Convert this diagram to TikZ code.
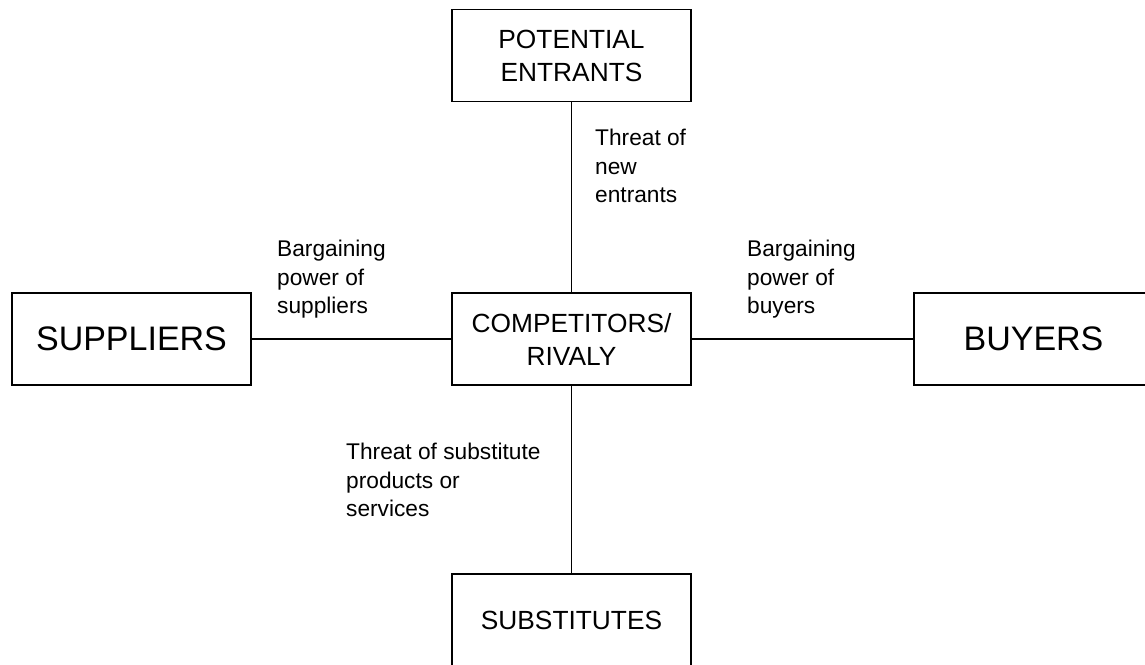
\documentclass[tikz,border=0pt]{standalone}
\usepackage{fontspec}
\setmainfont{Liberation Sans}
\usetikzlibrary{positioning}

\begin{document}
\begin{tikzpicture}[x=1pt,y=-1pt,
   force/.style={rectangle,draw=black,line width=1.3pt,inner sep=0pt,
                 minimum width=239pt,minimum height=92pt,align=center},
   big/.style={font=\fontsize{34}{40}\selectfont},
   mid/.style={font=\fontsize{26.3}{33}\selectfont},
   lbl/.style={anchor=north west,align=left,inner sep=0pt,
               font=\fontsize{22.7}{28.5}\selectfont}]
\useasboundingbox (0,0) rectangle (1145,664);
\path (571.5,55.5)  node (entrants)  [force,mid] {POTENTIAL\\ENTRANTS}
      (571.5,339)   node (rivalry)   [force,mid] {COMPETITORS/\\RIVALY}
      (131.5,339)   node (suppliers) [force,big] {SUPPLIERS}
      (1033.5,339)  node (buyers)    [force,big] {BUYERS}
      (571.5,620)   node (subst)     [force,mid] {SUBSTITUTES};
\draw [line width=1.3pt] (entrants) -- (rivalry);
\draw [line width=1.3pt] (suppliers) -- (rivalry);
\draw [line width=1.3pt] (rivalry) -- (buyers);
\draw [line width=1.3pt] (rivalry) -- (subst);
\node (t1) [lbl] at (595,129) {Threat of\\new\\entrants};
\node (t2) [lbl] at (277,240) {Bargaining\\power of\\suppliers};
\node (t3) [lbl] at (747,240) {Bargaining\\power of\\buyers};
\node (t4) [lbl] at (346,443) {Threat of substitute\\products or\\services};
\end{tikzpicture}
\end{document}
